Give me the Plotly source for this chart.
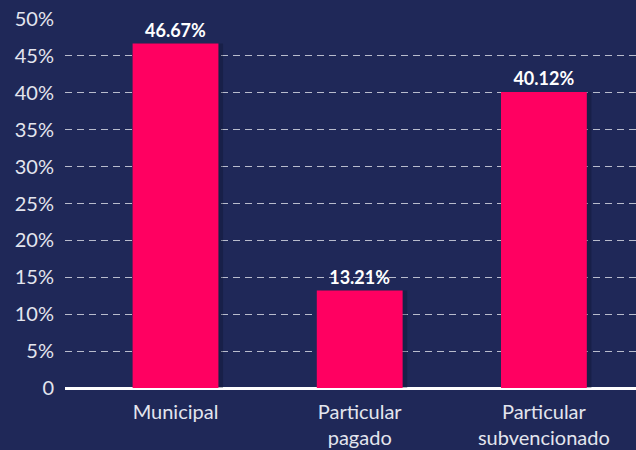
import plotly.graph_objects as go

BG = '#1f2858'
PINK = '#ff0061'
FONT = 'Lato'

categorias = ['Municipal', 'Particular<br>pagado', 'Particular<br>subvencionado']
porcentajes = [46.67, 13.21, 40.12]
etiquetas = ['46.67%', '13.21%', '40.12%']
ticks_y = [0, 5, 10, 15, 20, 25, 30, 35, 40, 45, 50]
ticks_texto = ['0', '5%', '10%', '15%', '20%', '25%', '30%', '35%', '40%', '45%', '50%']

fig = go.Figure()

# sombra suave a la derecha de cada barra
fig.add_trace(go.Bar(
    x=categorias, y=porcentajes,
    width=0.466, offset=-0.233 + 0.025,
    marker=dict(color='rgba(10,15,40,0.3)', line=dict(width=0)),
    hoverinfo='skip', showlegend=False,
))

fig.add_trace(go.Bar(
    x=categorias, y=porcentajes,
    width=0.466, offset=-0.233,
    marker=dict(color=PINK, line=dict(width=0)),
    text=etiquetas, textposition='outside', cliponaxis=False,
    textfont=dict(family=FONT, size=18, color='white', weight='bold'),
    showlegend=False,
))

fig.update_layout(
    width=636, height=450,
    paper_bgcolor=BG, plot_bgcolor=BG,
    barmode='overlay',
    font=dict(family=FONT, size=20, color='#e3e5ee'),
    margin=dict(l=65, r=0, t=19, b=62),
    xaxis=dict(
        range=[-0.6, 2.5], showgrid=False, showline=False,
        zeroline=False, ticks='', ticklabelstandoff=10, automargin=False,
        tickfont=dict(size=20, color='#e3e5ee'),
    ),
    yaxis=dict(
        range=[0, 50], tickvals=ticks_y, ticktext=ticks_texto,
        showgrid=True, gridcolor='#b8bccd', gridwidth=1, griddash='7px,5px',
        zeroline=True, zerolinecolor='white', zerolinewidth=2.5,
        showline=False, ticks='', ticklabelstandoff=10, automargin=False,
        tickfont=dict(size=20, color='#e3e5ee'),
    ),
)

fig.write_html(
    'out.html',
    config={'displayModeBar': False},
    post_script="document.body.style.margin='0';document.body.style.overflow='hidden';",
)
